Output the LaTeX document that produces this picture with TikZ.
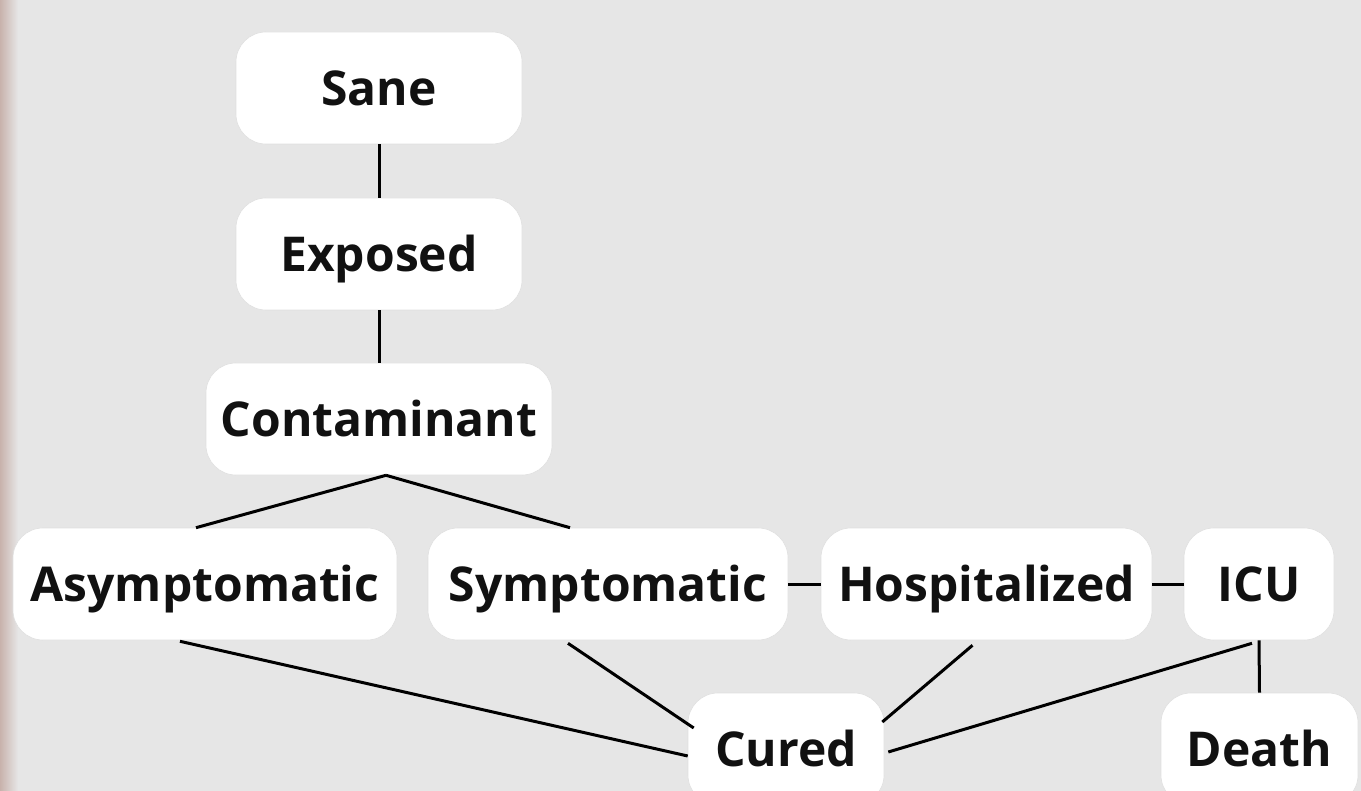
\documentclass[tikz,border=0pt]{standalone}
\usepackage{fontspec}
\setmainfont{Open Sans}
\definecolor{bgc}{RGB}{230,230,230}
\definecolor{edgec}{RGB}{200,178,172}
\definecolor{txt}{RGB}{17,17,17}
\begin{document}
\begin{tikzpicture}[x=0.5pt,y=-0.5pt,
  box/.style={fill=white, draw=black!12, line width=0.3pt, rounded corners=15pt, inner sep=0pt,
    font=\fontsize{24}{28}\selectfont\bfseries, text=txt, minimum height=56pt,
    text height=17.1pt, text depth=0pt},
  link/.style={line width=1.5pt, black}]
\useasboundingbox (0,0) rectangle (1361,791);
\fill[bgc] (0,0) rectangle (1361,791);
\shade[left color=edgec, right color=bgc] (0,0) rectangle (18,791);

\node[box, minimum width=143pt] (sane) at (379,88) {Sane};
\node[box, minimum width=143pt] (exp) at (379,254) {Exposed};
\node[box, minimum width=173pt] (cont) at (379,419) {Contaminant};
\node[box, minimum width=192pt] (asym) at (205,584) {Asymptomatic};
\node[box, minimum width=180pt] (sym) at (608,584) {Symptomatic};
\node[box, minimum width=165.5pt] (hosp) at (986.5,584) {Hospitalized};
\node[box, minimum width=75pt] (icu) at (1259,584) {ICU};
\node[box, minimum width=98pt] (cured) at (786,749) {Cured};
\node[box, minimum width=98.5pt] (death) at (1259.5,749) {Death};

\draw[link] (sane.south) -- (exp.north);
\draw[link] (exp.south) -- (cont.north);
\draw[link] ([xshift=3.5pt]cont.south) -- ([xshift=-4.5pt]asym.north);
\draw[link] ([xshift=3.5pt]cont.south) -- ([xshift=-19pt]sym.north);
\draw[link] (sym.east) -- (hosp.west);
\draw[link] (hosp.east) -- (icu.west);
\draw[link] ([xshift=-12.5pt,yshift=-0.5pt]asym.south) -- ([yshift=-3.5pt]cured.west);
\draw[link] ([xshift=-20pt,yshift=-1.5pt]sym.south) -- ([xshift=3pt,yshift=10.5pt]cured.west);
\draw[link] ([xshift=-7pt,yshift=-2.5pt]hosp.south) -- ([xshift=-1pt,yshift=13.5pt]cured.east);
\draw[link] ([xshift=-3.5pt,yshift=-1.5pt]icu.south) -- ([xshift=2pt,yshift=-1.5pt]cured.east);
\draw[link] (icu.south) -- (death.north);
\end{tikzpicture}
\end{document}
